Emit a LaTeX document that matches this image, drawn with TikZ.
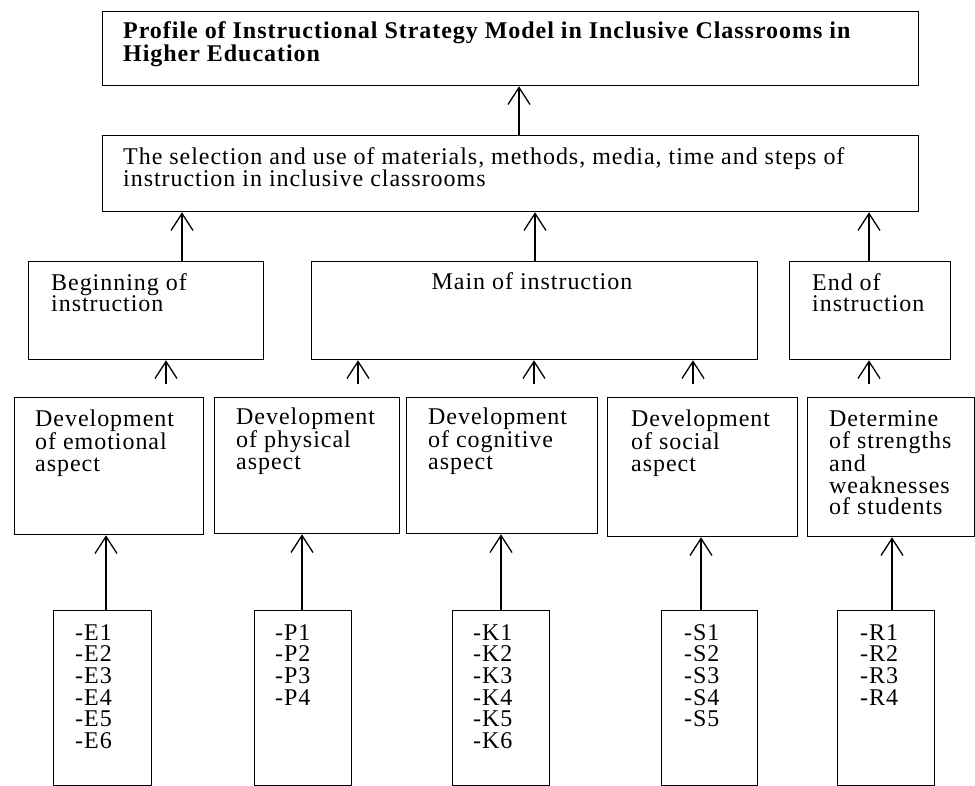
\documentclass[tikz,border=0pt]{standalone}
\usepackage{fontspec}
\setmainfont{Liberation Serif}[LetterSpace=4]
\usetikzlibrary{arrows.meta}

\tikzset{
  blk/.style={draw, line width=1.3pt, anchor=north west, inner sep=0pt},
  txt/.style={anchor=base west, align=left, inner sep=0pt,
    font=\fontsize{24}{21.7}\selectfont},
  up/.style={line width=1.3pt,
    -{Straight Barb[length=17pt,width=22pt,line width=1.3pt]}},
}

\begin{document}
\begin{tikzpicture}[x=1pt,y=1pt]
  \useasboundingbox (0,0) rectangle (975,-786);

  % boxes, top to bottom
  \node[blk, minimum width=816, minimum height=74] (top) at (102,-11) {};
  \node[blk, minimum width=816, minimum height=76] (sel) at (102,-135) {};

  \node[blk, minimum width=235, minimum height=98] (beg) at (28,-261) {};
  \node[blk, minimum width=446, minimum height=98] (main) at (311,-261) {};
  \node[blk, minimum width=161, minimum height=98] (endi) at (789,-261) {};

  \node[blk, minimum width=189, minimum height=137] (emo) at (14,-397) {};
  \node[blk, minimum width=185, minimum height=136] (phy) at (214,-397) {};
  \node[blk, minimum width=191, minimum height=136] (cog) at (406,-397) {};
  \node[blk, minimum width=190, minimum height=139] (soc) at (607,-397) {};
  \node[blk, minimum width=167, minimum height=139] (det) at (807,-397) {};

  \foreach \n/\x/\w in {E/53/98, P/254/97, K/452/97, S/661/96, R/837/97} {
    \node[blk, minimum width=\w, minimum height=175] (\n) at (\x,-610) {};
  }

  % texts (placed at the baseline of their last line)
  \node[txt, font=\fontsize{24}{23}\selectfont\bfseries] (topT) at (123,-62)
    {Profile of Instructional Strategy Model in Inclusive Classrooms in\\Higher Education};
  \node[txt] (selT) at (123,-187)
    {The selection and use of materials, methods, media, time and steps of\\instruction in inclusive classrooms};

  \node[txt] (begT) at (51,-312) {Beginning of\\instruction};
  \node[txt, anchor=base] (mainT) at (532,-290) {Main of instruction};
  \node[txt] (endT) at (812,-312) {End of\\instruction};

  \node[txt] (emoT) at (35,-471.4) {Development\\of emotional\\aspect};
  \node[txt] (phyT) at (236,-469.4) {Development\\of physical\\aspect};
  \node[txt] (cogT) at (428,-469.4) {Development\\of cognitive\\aspect};
  \node[txt] (socT) at (631,-471.4) {Development\\of social\\aspect};
  \node[txt] (detT) at (829,-514.8) {Determine\\of strengths\\and\\weaknesses\\of students};

  \node[txt] (ET) at (75,-748.5) {-E1\\-E2\\-E3\\-E4\\-E5\\-E6};
  \node[txt] (PT) at (275,-705.1) {-P1\\-P2\\-P3\\-P4};
  \node[txt] (KT) at (473,-748.5) {-K1\\-K2\\-K3\\-K4\\-K5\\-K6};
  \node[txt] (ST) at (684,-726.8) {-S1\\-S2\\-S3\\-S4\\-S5};
  \node[txt] (RT) at (860,-705.1) {-R1\\-R2\\-R3\\-R4};

  % arrows
  \draw[up] (sel.north -| 519,0) -- (top.south -| 519,0);
  \foreach \a/\x in {beg/182, main/535, endi/869}
    \draw[up] (\a.north -| \x,0) -- (sel.south -| \x,0);
  \foreach \a/\b/\x in {emo/beg/166, phy/main/358, cog/main/534, soc/main/693, det/endi/869}
    \draw[up, shorten <=13pt] (\a.north -| \x,0) -- (\b.south -| \x,0);
  \foreach \a/\b/\x in {E/emo/106, P/phy/302, K/cog/501, S/soc/701, R/det/892}
    \draw[up] (\a.north -| \x,0) -- (\b.south -| \x,0);
\end{tikzpicture}
\end{document}
